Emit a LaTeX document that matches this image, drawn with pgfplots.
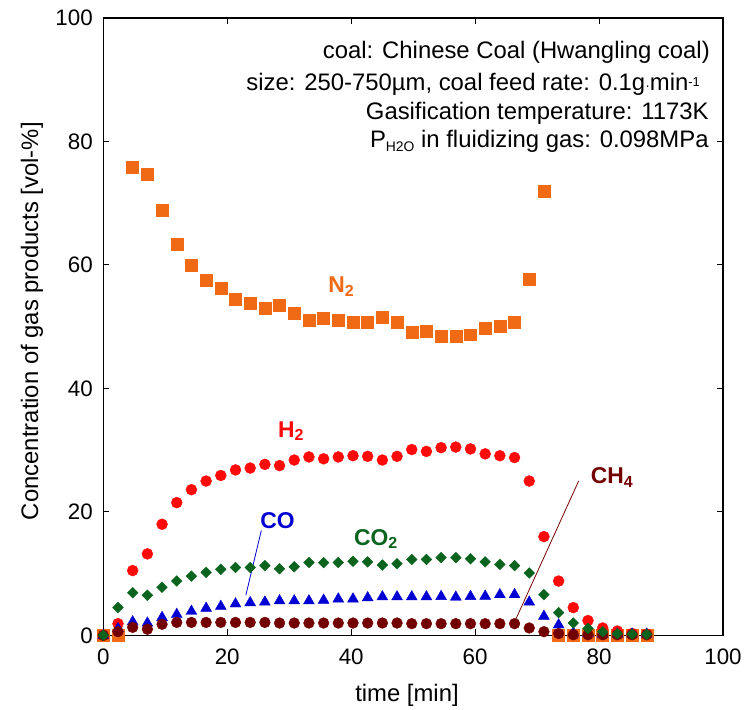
\documentclass[border=0pt]{standalone}
\usepackage{fontspec}
\setmainfont{Liberation Sans}
\usepackage{pgfplots}
\pgfplotsset{compat=1.18}
\definecolor{cN}{RGB}{240,105,20}
\definecolor{cH}{RGB}{255,10,10}
\definecolor{cCO}{RGB}{0,0,210}
\definecolor{cCOt}{RGB}{10,100,30}
\definecolor{cCH}{RGB}{115,0,0}
\pgfplotstableread{
t N2 H2 CO2 CO CH4
0.00 0 0 0 0 0
2.37 0 1.9 4.5 1.1 0.6
4.74 75.9 10.5 6.9 2.2 1.3
7.11 74.7 13.2 6.5 2.0 1.0
9.48 68.8 18.0 7.8 2.9 1.8
11.85 63.4 21.5 8.8 3.4 2.1
14.22 60.0 23.6 9.6 3.9 2.1
16.59 57.6 25.0 10.2 4.4 2.1
18.96 56.3 25.9 10.7 4.7 2.1
21.33 54.4 26.8 11.0 5.1 2.1
23.70 53.8 27.1 11.0 5.3 2.1
26.07 53.0 27.7 11.3 5.4 2.1
28.44 53.4 27.5 10.8 5.6 2.0
30.81 52.2 28.4 11.1 5.6 2.0
33.18 51.1 28.9 11.8 5.6 2.0
35.55 51.4 28.6 11.8 5.7 2.0
37.92 51.1 28.9 11.8 5.9 2.0
40.29 50.7 29.1 12.0 5.9 2.0
42.66 50.8 29.0 11.9 6.1 2.0
45.03 51.6 28.4 11.4 6.25 2.0
47.40 50.7 29.0 11.6 6.25 2.0
49.77 49.1 30.1 12.3 6.25 1.9
52.14 49.3 29.8 12.3 6.25 1.9
54.51 48.5 30.4 12.6 6.3 1.9
56.88 48.5 30.5 12.6 6.2 1.9
59.25 48.7 30.2 12.4 6.3 1.9
61.62 49.8 29.4 11.9 6.35 1.9
63.99 50.1 29.1 11.5 6.6 1.9
66.36 50.7 28.8 11.3 6.6 1.9
68.73 57.7 25.0 10.1 5.4 1.2
71.10 71.9 16.0 6.6 3.1 0.6
73.47 0 8.8 3.7 1.7 0.3
75.84 0 4.5 2.0 0.4 0.1
78.21 0 2.4 1.1 0.3 0.1
80.58 0 1.2 0.6 0.2 0.1
82.95 0 0.7 0.3 0.2 0.1
85.32 0 0.3 0.2 0.2 0.1
87.69 0 0.2 0.2 0.2 0.1
}\gas
\begin{document}
\begin{tikzpicture}
\begin{axis}[
  width=621bp, height=618.7bp, scale only axis,
  xmin=0, xmax=100, ymin=0, ymax=100,
  xtick={0,20,...,100}, ytick={0,20,...,100},
  tick align=inside, major tick length=6bp,
  axis line style={line width=1.1bp},
  every tick/.style={line width=0.9bp, black},
  /pgf/number format/assume math mode=true,
  tick label style={font=\fontsize{22.5}{26}\selectfont},
  xticklabel style={yshift=-10bp},
  yticklabel style={xshift=-7bp},
  xlabel={time [min]},
  ylabel={Concentration of gas products [vol-\%]},
  label style={font=\fontsize{24}{28}\selectfont},
  xlabel style={at={(rel axis cs:0.49,-0.107)}, anchor=base},
  ylabel style={at={(rel axis cs:-0.115,0.509)}, anchor=center},
  clip=false,
]
\addplot[only marks, mark=square*, mark size=6bp, color=cN, mark options={draw=cN, fill=cN}] table[x=t, y=N2] {\gas};
\addplot[only marks, mark=*, mark size=5.5bp, color=cH, mark options={draw=cH, fill=cH}] table[x=t, y=H2] {\gas};
\addplot[only marks, mark=triangle*, mark size=6.3bp, color=cCO, mark options={draw=cCO, fill=cCO}] table[x=t, y=CO] {\gas};
\addplot[only marks, mark=*, mark size=5.4bp, color=cCH, mark options={draw=cCH, fill=cCH}] table[x=t, y=CH4] {\gas};
\addplot[only marks, mark=square*, mark size=3.8bp, color=cCOt, mark options={draw=cCOt, fill=cCOt, rotate=45}] table[x=t, y=CO2] {\gas};

\draw[cCO, line width=0.8bp] (axis cs:25.5,17.0) -- (axis cs:23.0,6.5);
\draw[cCH, line width=0.8bp] (axis cs:76.7,25.0) -- (axis cs:66.6,2.7);

\node[cN, font=\bfseries\fontsize{23}{27}\selectfont] at (axis cs:38.4,56.5) {N\textsubscript{2}};
\node[cH, font=\bfseries\fontsize{23}{27}\selectfont] at (axis cs:30.3,33.1) {H\textsubscript{2}};
\node[cCO, font=\bfseries\fontsize{23}{27}\selectfont] at (axis cs:28.1,18.6) {CO};
\node[cCOt, font=\bfseries\fontsize{23}{27}\selectfont] at (axis cs:44.0,15.6) {CO\textsubscript{2}};
\node[cCH, font=\bfseries\fontsize{23}{27}\selectfont] at (axis cs:82.1,25.6) {CH\textsubscript{4}};

\node[anchor=base east, inner sep=0pt, font=\fontsize{24}{28}\selectfont] at (axis cs:97.9,93.5) {coal: Chinese Coal (Hwangling coal)};
\node[anchor=base east, inner sep=0pt, font=\fontsize{24}{28}\selectfont] at (axis cs:96.3,88.2) {size: 250-750µm, coal feed rate: 0.1g{\fontsize{14}{14}\selectfont·}min{\fontsize{13}{13}\selectfont\raisebox{0.35em}{-1}}};
\node[anchor=base east, inner sep=0pt, font=\fontsize{24}{28}\selectfont] at (axis cs:97.7,83.5) {Gasification temperature: 1173K};
\node[anchor=base east, inner sep=0pt, font=\fontsize{24}{28}\selectfont] at (axis cs:97.7,79.0) {P{\fontsize{14}{14}\selectfont\raisebox{-0.3em}{H2O}} in fluidizing gas: 0.098MPa};

\path (rel axis cs:-0.1667,-0.1201) rectangle (rel axis cs:1.0330,1.0291);
\end{axis}
\end{tikzpicture}
\end{document}
